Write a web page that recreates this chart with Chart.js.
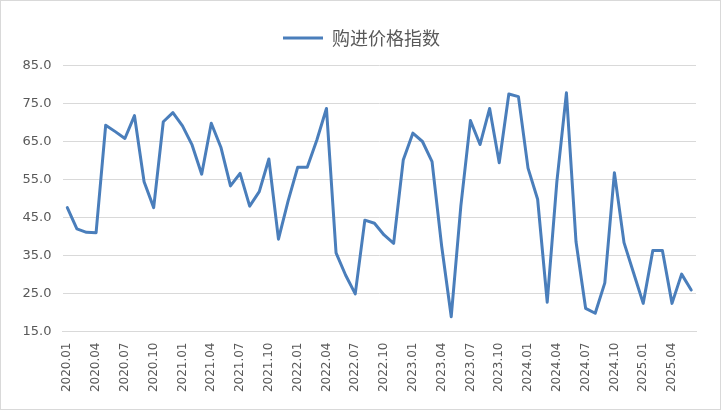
<!DOCTYPE html>
<html><head><meta charset="utf-8">
<script src="https://cdn.jsdelivr.net/npm/chart.js@4.4.1/dist/chart.umd.min.js"></script>
<style>html,body{margin:0;padding:0;background:#fff;}#wrap{width:723px;height:412px;position:relative}</style>
</head><body><div id="wrap"><canvas id="c" width="723" height="412"></canvas></div>
<script>
const seriesName = '购进价格指数';
const months = [
 '2020.01','2020.02','2020.03','2020.04','2020.05','2020.06','2020.07','2020.08','2020.09','2020.10','2020.11','2020.12',
 '2021.01','2021.02','2021.03','2021.04','2021.05','2021.06','2021.07','2021.08','2021.09','2021.10','2021.11','2021.12',
 '2022.01','2022.02','2022.03','2022.04','2022.05','2022.06','2022.07','2022.08','2022.09','2022.10','2022.11','2022.12',
 '2023.01','2023.02','2023.03','2023.04','2023.05','2023.06','2023.07','2023.08','2023.09','2023.10','2023.11','2023.12',
 '2024.01','2024.02','2024.03','2024.04','2024.05','2024.06','2024.07','2024.08','2024.09','2024.10','2024.11','2024.12',
 '2025.01','2025.02','2025.03','2025.04','2025.05','2025.06'
];
const values = [
 47.6,42.0,41.1,41.0,69.3,67.6,65.8,71.8,54.4,47.6,70.2,72.6,
 69.1,64.1,56.4,69.8,63.5,53.3,56.6,48.0,51.8,60.4,39.3,49.3,
 58.2,58.2,65.4,73.7,35.7,29.8,24.9,44.3,43.5,40.4,38.2,60.1,
 67.2,65.0,59.7,37.5,18.9,48.0,70.5,64.2,73.7,59.4,77.5,76.8,
 58.0,49.8,22.7,54.3,77.8,38.6,21.1,19.8,27.8,56.8,38.4,30.4,
 22.4,36.3,36.3,22.4,30.1,25.9
];
const yTicks = [15,25,35,45,55,65,75,85];

const borderPlugin = {
  id:'frame',
  beforeDraw(chart){
    const c = chart.ctx;
    c.save();
    c.strokeStyle = '#d9d9d9';
    c.lineWidth = 1;
    c.strokeRect(0.5,0.5,720,409);
    c.restore();
  }
};

function patchLegend(chart){
  const lg = chart.legend;
  if (lg && !lg._gapPatched){
    const f = lg.fit;
    lg.fit = function(){ f.call(this); this.height += 8.5; };
    lg._gapPatched = true;
  }
}
const legendGapPlugin = {
  id:'legendGap',
  afterInit(chart){ patchLegend(chart); },
  beforeUpdate(chart){ patchLegend(chart); },
  beforeLayout(chart){ patchLegend(chart); }
};

new Chart(document.getElementById('c'), {
  type:'line',
  data:{labels:months, datasets:[{label:seriesName, data:values, borderColor:'#4A7EBB', backgroundColor:'#4A7EBB',
    borderWidth:3, pointRadius:0, tension:0, borderJoinStyle:'round', borderCapStyle:'round', fill:false}]},
  options:{responsive:false, animation:false, devicePixelRatio:1,
    layout:{padding:{left:0,right:0,top:10.5,bottom:0}},
    plugins:{
      legend:{position:'top', labels:{usePointStyle:true, pointStyle:'line', pointStyleWidth:40,
        font:{size:18,family:'"Noto Sans CJK SC"'}, color:'#595959', padding:18.5}},
      tooltip:{enabled:false}
    },
    scales:{
      x:{offset:true, grid:{display:false, drawTicks:false}, border:{color:'#d9d9d9', width:1},
        ticks:{autoSkip:false, maxRotation:90, minRotation:90, padding:11,
          font:{size:12,family:'"DejaVu Sans"'}, color:'#595959',
          callback:(v,i)=> i%3===0 ? months[i] : ''},
        afterFit:s=>{s.height=80.5}},
      y:{min:15, max:85,
        afterBuildTicks:s=>{s.ticks = yTicks.map(v=>({value:v}));},
        grid:{color:'#d9d9d9', drawTicks:false}, border:{display:false},
        ticks:{padding:11, font:{size:13,family:'"DejaVu Sans"'}, color:'#595959', callback:v=>Number(v).toFixed(1)},
        afterFit:s=>{s.width=62.5}},
      yRight:{position:'right', min:15, max:85, grid:{display:false, drawTicks:false}, border:{display:false},
        ticks:{display:false}, afterFit:s=>{s.width=27}}
    }
  },
  plugins:[borderPlugin, legendGapPlugin]
});
</script></body></html>
